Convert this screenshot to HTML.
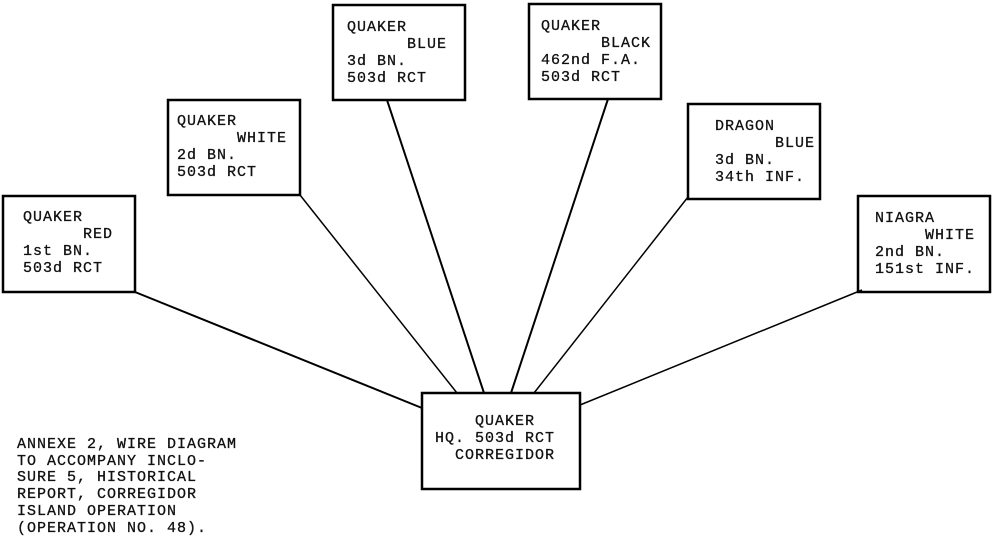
<!DOCTYPE html>
<html><head><meta charset="utf-8"><style>
html,body{margin:0;padding:0;background:#fff;}
svg{display:block;}
text{font-family:"Liberation Mono",monospace;font-size:15px;letter-spacing:1px;fill:#111;stroke:#111;stroke-width:0.3px;}
</style></head><body>
<svg width="995" height="543" viewBox="0 0 995 543" xmlns="http://www.w3.org/2000/svg">
<g stroke="#000" fill="none">
<rect x="3" y="196" width="132" height="96" stroke-width="2.5"/>
<rect x="168" y="100" width="132" height="95" stroke-width="2.5"/>
<rect x="333" y="5" width="132" height="95" stroke-width="2.5"/>
<rect x="529" y="4" width="132" height="95" stroke-width="2.5"/>
<rect x="688" y="104" width="132" height="95" stroke-width="2.5"/>
<rect x="858" y="196" width="132" height="96" stroke-width="2.5"/>
<rect x="422" y="393" width="158" height="96" stroke-width="2.5"/>
<line x1="135" y1="292" x2="422" y2="408" stroke-width="2"/>
<line x1="300" y1="195" x2="457" y2="393" stroke-width="1.5"/>
<line x1="387" y1="100" x2="484" y2="393" stroke-width="2"/>
<line x1="608" y1="99" x2="511" y2="393" stroke-width="2"/>
<line x1="688" y1="197" x2="534" y2="393" stroke-width="1.5"/>
<line x1="862" y1="290" x2="580" y2="405" stroke-width="1.5"/>
</g>
<text x="23" y="221">QUAKER</text><text x="83" y="238">RED</text><text x="23" y="255">1st BN.</text><text x="23" y="272">503d RCT</text>
<text x="177" y="125">QUAKER</text><text x="237" y="142">WHITE</text><text x="177" y="159">2d BN.</text><text x="177" y="176">503d RCT</text>
<text x="347" y="31">QUAKER</text><text x="407" y="48">BLUE</text><text x="347" y="65">3d BN.</text><text x="347" y="82">503d RCT</text>
<text x="541" y="30">QUAKER</text><text x="601" y="47">BLACK</text><text x="541" y="64">462nd F.A.</text><text x="541" y="81">503d RCT</text>
<text x="715" y="130">DRAGON</text><text x="775" y="147">BLUE</text><text x="715" y="164">3d BN.</text><text x="715" y="181">34th INF.</text>
<text x="875" y="222">NIAGRA</text><text x="925" y="239">WHITE</text><text x="875" y="256">2nd BN.</text><text x="875" y="273">151st INF.</text>
<text x="475" y="425">QUAKER</text><text x="435" y="442">HQ. 503d RCT</text><text x="455" y="459">CORREGIDOR</text>
<g>
<text x="17" y="448">ANNEXE 2, WIRE DIAGRAM</text>
<text x="17" y="465">TO ACCOMPANY INCLO-</text>
<text x="17" y="481">SURE 5, HISTORICAL</text>
<text x="17" y="498">REPORT, CORREGIDOR</text>
<text x="17" y="515">ISLAND OPERATION</text>
<text x="17" y="532">(OPERATION NO. 48).</text>
</g>
</svg>
</body></html>
